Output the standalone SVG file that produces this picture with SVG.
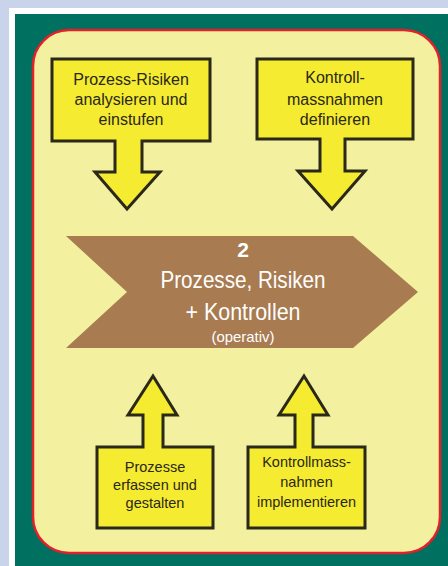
<svg xmlns="http://www.w3.org/2000/svg" width="448" height="566" viewBox="0 0 448 566">
<style>
.box{fill:#f5eb30;stroke:#2a2818;stroke-width:3;stroke-linejoin:miter}
.t{font-family:"Liberation Sans",Arial,sans-serif;fill:#2a2818;text-anchor:middle}
.w{font-family:"Liberation Sans",Arial,sans-serif;fill:#ffffff;text-anchor:middle}
</style>
<rect x="0" y="0" width="448" height="566" fill="#c9d4ea"/>
<rect x="9" y="8" width="445" height="566" fill="#ffffff"/>
<rect x="15" y="14" width="440" height="560" fill="#007060"/>
<rect x="33" y="30" width="407" height="523" rx="36" fill="#f3f1a0" stroke="#e3202a" stroke-width="2.5"/>
<g id="main">
<polygon points="66,236 353,236 418,292 353,348 66,348 127,292" fill="#a87b50"/>
<text class="w" x="243" y="257" font-size="21" font-weight="bold">2</text>
<text class="w" x="243" y="288" font-size="24" textLength="165" lengthAdjust="spacingAndGlyphs">Prozesse, Risiken</text>
<text class="w" x="243" y="320" font-size="24" textLength="115" lengthAdjust="spacingAndGlyphs">+ Kontrollen</text>
<text class="w" x="243" y="342" font-size="15" textLength="63" lengthAdjust="spacingAndGlyphs">(operativ)</text>
</g>
<g id="node-risiken">
<polygon class="box" points="52,59 210,59 210,141 142,141 142,172 160,172 127,209 95,172 115,172 115,141 52,141"/>
<text class="t" x="131" y="85" font-size="16">Prozess-Risiken</text>
<text class="t" x="131" y="105" font-size="16">analysieren und</text>
<text class="t" x="131" y="125" font-size="16">einstufen</text>
</g>
<g id="node-definieren">
<polygon class="box" points="257,59 413,59 413,139 345,139 345,171 365,171 332,209 298,171 320,171 320,139 257,139"/>
<text class="t" x="335" y="83" font-size="16">Kontroll-</text>
<text class="t" x="335" y="105" font-size="16">massnahmen</text>
<text class="t" x="335" y="125" font-size="16">definieren</text>
</g>
<g id="node-erfassen">
<polygon class="box" points="97,528 213,528 213,447 163,447 163,415 177,415 153,376 128,415 143,415 143,447 97,447"/>
<text class="t" x="155" y="472" font-size="14.5">Prozesse</text>
<text class="t" x="155" y="490" font-size="14.5">erfassen und</text>
<text class="t" x="155" y="508" font-size="14.5">gestalten</text>
</g>
<g id="node-implementieren">
<polygon class="box" points="248,528 365,528 365,447 313,447 313,415 328,415 304,376 279,415 295,415 295,447 248,447"/>
<text class="t" x="306.5" y="467" font-size="14.5">Kontrollmass-</text>
<text class="t" x="306.5" y="487" font-size="14.5">nahmen</text>
<text class="t" x="306.5" y="507" font-size="14.5">implementieren</text>
</g>
<g id="connectors"></g>
</svg>
